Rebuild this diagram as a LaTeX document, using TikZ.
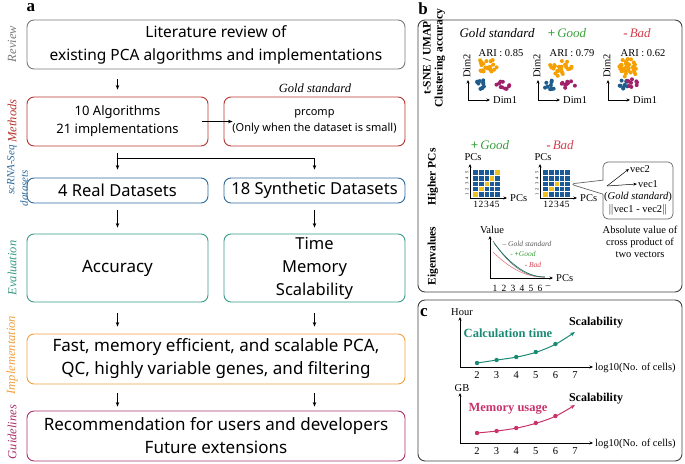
\documentclass[tikz,border=0pt]{standalone}
\usepackage{fontspec}
\setmainfont{Liberation Serif}
\newfontfamily\boxfont{Noto Sans}
\usetikzlibrary{arrows.meta,calc,positioning,shapes.callouts}

\definecolor{revgray}{HTML}{7A7A7A}
\definecolor{methred}{HTML}{B5352F}
\definecolor{dataBlue}{HTML}{2C6A9C}
\definecolor{evalteal}{HTML}{3A9A88}
\definecolor{implorange}{HTML}{F0A040}
\definecolor{guidemag}{HTML}{A8306A}
\definecolor{goodgreen}{HTML}{3AA03C}
\definecolor{badred}{HTML}{D4404E}
\definecolor{dotorange}{HTML}{F5A000}
\definecolor{dotblue}{HTML}{1F5C8C}
\definecolor{dotpurple}{HTML}{A0206A}
\definecolor{hmblue}{HTML}{1A5A98}
\definecolor{hmyellow}{HTML}{F0C020}
\definecolor{calcteal}{HTML}{1B8A74}
\definecolor{memmag}{HTML}{C8326A}

\tikzset{
  stagebox/.style={draw=#1, rounded corners=7pt, line width=0.9pt, align=center,
    inner sep=0pt, font=\boxfont\fontsize{17}{23}\selectfont},
  stagelbl/.style={rotate=90, text=#1, align=center, inner sep=1pt,
    font=\itshape\fontsize{12.5}{12.5}\selectfont},
  panellbl/.style={font=\bfseries\fontsize{17}{17}\selectfont},
  panelbox/.style={draw=black!75, rounded corners=7pt, line width=0.9pt},
  arr/.style={-{Stealth[length=4.5pt,width=3.5pt]}, line width=0.6pt},
  axis/.style={-{Stealth[length=3.5pt,width=3pt]}, line width=0.6pt},
  sidelbl/.style={rotate=90, align=center, font=\bfseries\fontsize{11.5}{12}\selectfont},
  smalltxt/.style={inner sep=1pt, font=\fontsize{10.5}{11}\selectfont},
  hdrtxt/.style={inner sep=1pt, font=\fontsize{13}{13}\selectfont}
}

\begin{document}
\begin{tikzpicture}[x=1pt,y=-1pt]
\useasboundingbox (0,0) rectangle (685,463);

%% Panel a
\node[panellbl] (lbla) at (31,8) {a};
\node[stagebox=revgray, minimum width=378pt, minimum height=49pt,
  font=\boxfont\fontsize{15.5}{23}\selectfont] (review) at (216,44.5)
  {Literature review of\\existing PCA algorithms and implementations};
\node[stagebox=methred, minimum width=181pt, minimum height=49pt,
  font=\boxfont\fontsize{13}{18}\selectfont] (lmeth) at (117.5,121.5) {10 Algorithms\\21 implementations};
\node[stagebox=methred, minimum width=181pt, minimum height=49pt,
  font=\boxfont\fontsize{11}{16}\selectfont] (rmeth) at (314.5,121.5) {prcomp\\(Only when the dataset is small)};
\node[hdrtxt, font=\itshape\fontsize{12.5}{13}\selectfont] (goldstd) at (315,88) {Gold standard};
\node[stagebox=dataBlue, minimum width=181pt, minimum height=25pt,
  font=\boxfont\fontsize{16.5}{20}\selectfont] (lreal) at (117.5,190.5) {4 Real Datasets};
\node[stagebox=dataBlue, minimum width=181pt, minimum height=25pt,
  font=\boxfont\fontsize{16.5}{20}\selectfont] (rsyn) at (314.5,190.5) {18 Synthetic Datasets};
\node[stagebox=evalteal, minimum width=181pt, minimum height=68pt] (leval) at (117.5,268) {Accuracy};
\node[stagebox=evalteal, minimum width=181pt, minimum height=68pt,
  font=\boxfont\fontsize{16.5}{23}\selectfont] (reval) at (314.5,268) {Time\\Memory\\Scalability};
\node[stagebox=implorange, minimum width=378pt, minimum height=50pt] (impl) at (216,359)
  {Fast, memory efficient, and scalable PCA,\\QC, highly variable genes, and filtering};
\node[stagebox=guidemag, minimum width=378pt, minimum height=50pt] (guide) at (216,436)
  {Recommendation for users and developers\\Future extensions};

%% Stage labels
\node[stagelbl=revgray] (lrev) at (12,44) {Review};
\node[stagelbl=methred] (lmet) at (12,121) {Methods};
\node[stagelbl=dataBlue, font=\itshape\fontsize{11}{11}\selectfont] (ldat1) at (12,170) {scRNA-Seq};
\node[stagelbl=dataBlue, font=\itshape\fontsize{11}{11}\selectfont] (ldat2) at (24,188) {datasets};
\node[stagelbl=evalteal] (levl) at (12,268) {Evaluation};
\node[stagelbl=implorange] (limp) at (12,355) {Implementation};
\node[stagelbl=guidemag] (lgui) at (12,432) {Guidelines};

%% Arrows
\draw[arr, shorten <=10pt, shorten >=7pt] (review.south -| lmeth) -- (lmeth.north);
\draw[arr, shorten <=-6pt, shorten >=-9pt] (lmeth.east) -- (rmeth.west);
\coordinate (fork) at (117.5,158);
\draw[line width=0.6pt, shorten <=7pt] (lmeth.south) -- (fork);
\draw[arr, shorten >=8pt] (fork) -- (lreal.north);
\draw[arr, shorten >=8pt] (fork) -| (rsyn.north);
\draw[arr, shorten <=7pt, shorten >=6pt] (lreal.south) -- (leval.north);
\draw[arr, shorten <=7pt, shorten >=6pt] (rsyn.south) -- (reval.north);
\draw[arr, shorten <=11pt, shorten >=7pt] (leval.south) -- (impl.north -| leval);
\draw[arr, shorten <=11pt, shorten >=7pt] (reval.south) -- (impl.north -| reval);
\draw[arr, shorten <=9pt, shorten >=4pt] (impl.south -| leval) -- (guide.north -| leval);
\draw[arr, shorten <=9pt, shorten >=4pt] (impl.south -| reval) -- (guide.north -| reval);

%% Panel b
\node[panellbl] (lblb) at (423,9) {b};
\draw[panelbox] (418,20) rectangle (682,292);
\node[sidelbl] (tsne) at (434,58) {t-SNE / UMAP\\Clustering accuracy};
\node[sidelbl] (hpcs) at (433,177) {Higher PCs};
\node[sidelbl] (eigs) at (433,256) {Eigenvalues};

\node[hdrtxt] (hgold) at (497,33) {\itshape Gold standard};
\node[hdrtxt, text=goodgreen] (hgood) at (567,33) {\textbf{+}\,\itshape Good};
\node[hdrtxt, text=badred] (hbad) at (637,33) {\textbf{-}\,\itshape Bad};
\node[smalltxt] (ari1) at (501,53) {ARI : 0.85};
\node[smalltxt] (ari2) at (572,53) {ARI : 0.79};
\node[smalltxt] (ari3) at (643,53) {ARI : 0.62};

%% Scatter clusters
\pgfmathsetseed{11}
\foreach \cx/\cy/\rx/\ry/\n/\col in {487/66/13/7/24/dotorange, 482/85/7/6/11/dotblue, 502/85/8/5/10/dotpurple,
    560/68/12/8/26/dotorange, 550/85/7/5/10/dotblue, 568/85/8/4/10/dotpurple,
    623/85/8/5/10/dotblue, 633/83/6/5/9/dotpurple, 628/68/10/10/30/dotorange}
  \foreach \k in {1,...,\n} {
    \pgfmathsetmacro\ang{rnd*360}
    \pgfmathsetmacro\rad{sqrt(rnd)}
    \fill[\col] ({\cx+\rx*\rad*cos(\ang)},{\cy+\ry*\rad*sin(\ang)}) circle (2pt);
  }
%% Scatter axes
\foreach \ox in {468,538,608} {
  \draw[axis] (\ox,100) -- (\ox,80);
  \draw[axis] (\ox,100) -- (\ox+22,100);
  \node[smalltxt, rotate=90] at (\ox-1,66) {Dim2};
  \node[smalltxt, anchor=west] at (\ox+24,100) {Dim1};
}

%% Higher PCs heatmaps
\node[hdrtxt, text=goodgreen] (pgood) at (490,145) {\textbf{+}\,\itshape Good};
\node[hdrtxt, text=badred] (pbad) at (560,145) {\textbf{-}\,\itshape Bad};
\foreach \hx/\ny in {473/5,543/3} {
  \fill[hmblue] (\hx,170) rectangle (\hx+27,197);
  \foreach \k in {1,...,\ny}
    \fill[hmyellow] (\hx+5.4*\k-5.4,197-5.4*\k+5.4) rectangle (\hx+5.4*\k,197-5.4*\k);
  \foreach \k in {1,...,4} {
    \draw[white, line width=0.5pt] (\hx+5.4*\k,170) -- (\hx+5.4*\k,197);
    \draw[white, line width=0.5pt] (\hx,170+5.4*\k) -- (\hx+27,170+5.4*\k);
  }
  \draw[axis] (\hx-3,198) -- (\hx-3,164);
  \draw[axis] (\hx-3,198) -- (\hx+34,198);
  \node[smalltxt] at (\hx,157) {PCs};
  \node[smalltxt, anchor=west] at (\hx+36,198) {PCs};
  \foreach \k in {1,...,5} {
    \node[inner sep=0pt, font=\fontsize{9.5}{10}\selectfont] at (\hx+5.4*\k-2.7,204) {\k};
    \node[inner sep=0pt, rotate=90, font=\fontsize{4.5}{5}\selectfont] at (\hx-6,197-5.4*\k+2.7) {\k};
  }
}
\coordinate (badmap) at (570,184);
\node[panelbox, draw=black!60, line width=0.7pt, rectangle callout, callout absolute pointer={(badmap)},
  callout pointer width=14pt, rounded corners=5pt, minimum width=70pt, minimum height=57pt]
  (vecbox) at (638,190.5) {};
\coordinate (vo) at (607,186);
\node[smalltxt] (vec2) at (640,169) {vec2};
\node[smalltxt] (vec1) at (648,184) {vec1};
\draw[axis, line width=0.5pt] (vo) -- (vec2.west);
\draw[axis, line width=0.5pt] (vo) -- (vec1.west);
\node[smalltxt] (vgold) at (638,197) {(\textit{Gold standard})};
\node[smalltxt] (vnorm) at (638,210) {$\|$vec1 - vec2$\|$};
\node[smalltxt, align=center, font=\fontsize{10.5}{12}\selectfont] (cross) at (640,242)
  {Absolute value of\\cross product of\\two vectors};

%% Eigenvalues plot
\draw[axis] (490,278) -- (490,236);
\draw[axis] (490,278) -- (553,278);
\node[smalltxt] (vallbl) at (492,230) {Value};
\node[smalltxt, anchor=west] (eigpcs) at (555,278) {PCs};
\foreach \k in {1,...,6}
  \node[inner sep=0pt, font=\fontsize{9.5}{10}\selectfont] at (486+9*\k,288) {\k};
\node[inner sep=0pt, font=\fontsize{9.5}{10}\selectfont] at (548,287) {--};
\draw[badred!70, line width=0.6pt] plot[domain=0:1, samples=30] ({493+50*\x},{277-25*(1-\x)^2});
\draw[black!55, line width=0.6pt] plot[domain=0:1, samples=30] ({493+52*\x},{277-36*(1-\x)^2.2});
\draw[calcteal!80!black, line width=0.6pt] plot[domain=0:1, samples=30] ({494+51*\x},{277-34*(1-\x)^2});
\node[inner sep=1pt, text=black!65, font=\itshape\fontsize{7.5}{8}\selectfont] (lgold) at (527,244) {-- Gold standard};
\node[inner sep=1pt, text=goodgreen, font=\itshape\fontsize{7.5}{8}\selectfont] (lgood) at (523,254) {- \textbf{+}Good};
\node[inner sep=1pt, text=badred, font=\itshape\fontsize{7.5}{8}\selectfont] (lbad) at (533,265) {- Bad};

%% Panel c
\node[panellbl] (lblc) at (424,313) {c};
\draw[panelbox] (418,300) rectangle (682,461);
\foreach \oy/\col/\name/\unit/\pts in {
    367/calcteal/Calculation time/Hour/{363,360,357,352,344,332},
    443/memmag/Memory usage/GB/{433,431,428,423,416,405}} {
  \draw[axis] (460,\oy) -- (460,\oy-50);
  \draw[axis] (460,\oy) -- (593,\oy);
  \node[smalltxt] at (462,\oy-55) {\unit};
  \node[smalltxt, anchor=west] at (594,\oy+1) {log10(No. of cells)};
  \foreach \k in {2,...,7}
    \node[inner sep=0pt, font=\fontsize{10.5}{11}\selectfont] at (477+19.6*\k-39.2,\oy+8) {\k};
  \node[inner sep=1pt, text=\col, font=\bfseries\fontsize{12.5}{13}\selectfont] at (508,\oy-34) {\name};
  \node[inner sep=1pt, font=\bfseries\fontsize{12}{12}\selectfont] at (596,\oy-44) {Scalability};
  \foreach [count=\i] \py in \pts {
    \ifnum\i<6 \fill[\col] (457.4+19.6*\i,\py) circle (2.2pt); \fi
  }
}
%% Trend curves
\draw[calcteal, line width=1pt, -{Stealth[length=5pt,width=4pt]}] plot[smooth] coordinates
  {(477,363) (497,360) (517,357) (537,352) (556,344) (575,332)};
\draw[memmag, line width=1pt, -{Stealth[length=5pt,width=4pt]}] plot[smooth] coordinates
  {(477,433) (497,431) (517,428) (537,423) (556,416) (575,405)};
\end{tikzpicture}
\end{document}
